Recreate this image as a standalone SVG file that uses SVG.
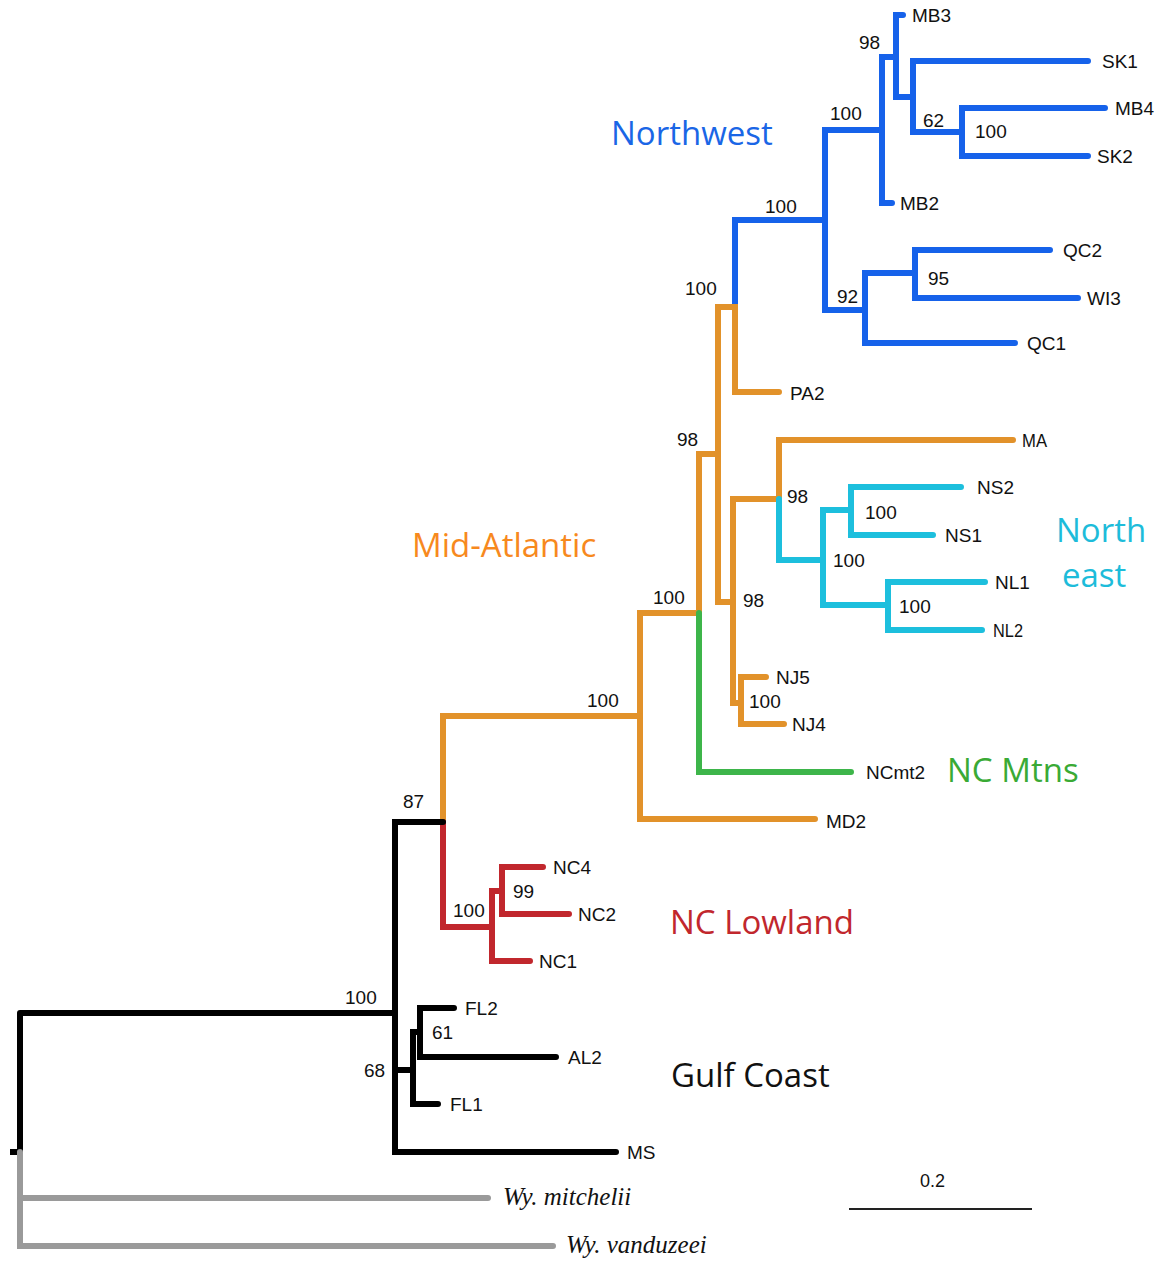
<svg xmlns="http://www.w3.org/2000/svg" width="1164" height="1262" viewBox="0 0 1164 1262">
<style>
.br{fill:none;stroke-width:6;stroke-linecap:round;stroke-linejoin:miter}
.blue{stroke:#1662EA}
.orange{stroke:#E2922A}
.cyan{stroke:#1DBFDD}
.green{stroke:#3DB54A}
.red{stroke:#C1272D}
.black{stroke:#000}
.gray{stroke:#9A9A9A}
.lf{font-family:"Liberation Sans",Arial,sans-serif;font-size:19px;fill:#111}
.bs{font-family:"Liberation Sans",Arial,sans-serif;font-size:19px;fill:#111}
.sp{font-family:"Liberation Serif","Times New Roman",serif;font-style:italic;font-size:25px;fill:#111}
.cl{font-family:"Open Sans","Noto Sans",sans-serif;font-size:33px}
</style>
<rect width="1164" height="1262" fill="#fff"/>
<g id="connectors">
<path class="br blue" d="M735,307 V220 H825"/>
<path class="br blue" d="M882,130 H825 V310 H865"/>
<path class="br blue" d="M892,203 H882 V57 H896"/>
<path class="br blue" d="M903,15 H896 V97 H913"/>
<path class="br blue" d="M1088,61 H913 V132 H962"/>
<path class="br blue" d="M1105,108 H962 V156 H1088"/>
<path class="br blue" d="M1015,343 H865 V273 H915"/>
<path class="br blue" d="M1050,250 H915 V298 H1078"/>
<path class="br orange" d="M779,392 H735 V307 H718 V602 H733"/>
<path class="br orange" d="M718,454 H699 V613"/>
<path class="br orange" d="M1013,440 H779 V499 H733 V703 H741"/>
<path class="br orange" d="M766,677 H741 V724 H784"/>
<path class="br orange" d="M699,613 H640 V819 H815"/>
<path class="br orange" d="M640,716 H443 V822"/>
<path class="br cyan" d="M779,499 V560 H823"/>
<path class="br cyan" d="M851,510 H823 V605 H888"/>
<path class="br cyan" d="M961,487 H851 V535 H933"/>
<path class="br cyan" d="M985,582 H888 V630 H982"/>
<path class="br green" d="M699,613 V772 H851"/>
<path class="br red" d="M443,822 V927 H492"/>
<path class="br red" d="M530,961 H492 V891 H502"/>
<path class="br red" d="M543,867 H502 V914 H569"/>
<path class="br black" d="M443,822 H395 V1152 H616"/>
<path class="br black" d="M20,1013 H395"/>
<path class="br black" d="M395,1070 H413"/>
<path class="br black" d="M438,1104 H413 V1032 H420"/>
<path class="br black" d="M454,1008 H420 V1057 H556"/>
<path class="br black" d="M10,1152 H20 V1013" style="stroke-linecap:butt"/>
<path class="br gray" d="M20,1152 V1246 H553"/>
<path class="br gray" d="M20,1198 H488"/>
</g>
<g id="leaves">
<g id="MB3"><text class="lf" x="912" y="22">MB3</text></g>
<g id="SK1"><text class="lf" x="1102" y="68">SK1</text></g>
<g id="MB4"><text class="lf" x="1115" y="115">MB4</text></g>
<g id="SK2"><text class="lf" x="1097" y="163">SK2</text></g>
<g id="MB2"><text class="lf" x="900" y="210">MB2</text></g>
<g id="QC2"><text class="lf" x="1063" y="257">QC2</text></g>
<g id="WI3"><text class="lf" x="1087" y="305">WI3</text></g>
<g id="QC1"><text class="lf" x="1027" y="350">QC1</text></g>
<g id="PA2"><text class="lf" x="790" y="400">PA2</text></g>
<g id="MA"><text class="lf" x="1022" y="447" textLength="25" lengthAdjust="spacingAndGlyphs">MA</text></g>
<g id="NS2"><text class="lf" x="977" y="494">NS2</text></g>
<g id="NS1"><text class="lf" x="945" y="542">NS1</text></g>
<g id="NL1"><text class="lf" x="995" y="589">NL1</text></g>
<g id="NL2"><text class="lf" x="993" y="637" textLength="30" lengthAdjust="spacingAndGlyphs">NL2</text></g>
<g id="NJ5"><text class="lf" x="776" y="684">NJ5</text></g>
<g id="NJ4"><text class="lf" x="792" y="731">NJ4</text></g>
<g id="NCmt2"><text class="lf" x="866" y="779">NCmt2</text></g>
<g id="MD2"><text class="lf" x="826" y="828">MD2</text></g>
<g id="NC4"><text class="lf" x="553" y="874">NC4</text></g>
<g id="NC2"><text class="lf" x="578" y="921">NC2</text></g>
<g id="NC1"><text class="lf" x="539" y="968">NC1</text></g>
<g id="FL2"><text class="lf" x="465" y="1015">FL2</text></g>
<g id="AL2"><text class="lf" x="568" y="1064">AL2</text></g>
<g id="FL1"><text class="lf" x="450" y="1111">FL1</text></g>
<g id="MS"><text class="lf" x="627" y="1159">MS</text></g>
<g id="Wy_mitchelii"><text class="sp" x="503" y="1205">Wy. mitchelii</text></g>
<g id="Wy_vanduzeei"><text class="sp" x="566" y="1253">Wy. vanduzeei</text></g>
</g>
<g id="support">
<text class="bs" x="859" y="49">98</text>
<text class="bs" x="830" y="120">100</text>
<text class="bs" x="923" y="127">62</text>
<text class="bs" x="975" y="138">100</text>
<text class="bs" x="837" y="303">92</text>
<text class="bs" x="928" y="285">95</text>
<text class="bs" x="765" y="213">100</text>
<text class="bs" x="685" y="295">100</text>
<text class="bs" x="677" y="446">98</text>
<text class="bs" x="787" y="503">98</text>
<text class="bs" x="865" y="519">100</text>
<text class="bs" x="833" y="567">100</text>
<text class="bs" x="899" y="613">100</text>
<text class="bs" x="743" y="607">98</text>
<text class="bs" x="749" y="708">100</text>
<text class="bs" x="653" y="604">100</text>
<text class="bs" x="587" y="707">100</text>
<text class="bs" x="403" y="808">87</text>
<text class="bs" x="453" y="917">100</text>
<text class="bs" x="513" y="898">99</text>
<text class="bs" x="345" y="1004">100</text>
<text class="bs" x="432" y="1039">61</text>
<text class="bs" x="364" y="1077">68</text>
</g>
<g id="clades">
<text id="Northwest" class="cl" x="611" y="145" fill="#1A66E6">Northwest</text>
<text id="MidAtlantic" class="cl" x="412" y="557" fill="#F7891E">Mid-Atlantic</text>
<text id="Northeast" class="cl" fill="#1DBCDA"><tspan x="1056" y="542">North</tspan><tspan x="1062" y="587">east</tspan></text>
<text id="NCMtns" class="cl" x="947" y="782" fill="#3AAA35">NC Mtns</text>
<text id="NCLowland" class="cl" x="670" y="934" fill="#C1272D">NC Lowland</text>
<text id="GulfCoast" class="cl" x="671" y="1087" fill="#111">Gulf Coast</text>
</g>
<g id="scalebar">
<line x1="849" y1="1209" x2="1032" y2="1209" stroke="#222" stroke-width="2"/>
<text class="bs" x="920" y="1187" style="font-size:18px">0.2</text>
</g>
</svg>
